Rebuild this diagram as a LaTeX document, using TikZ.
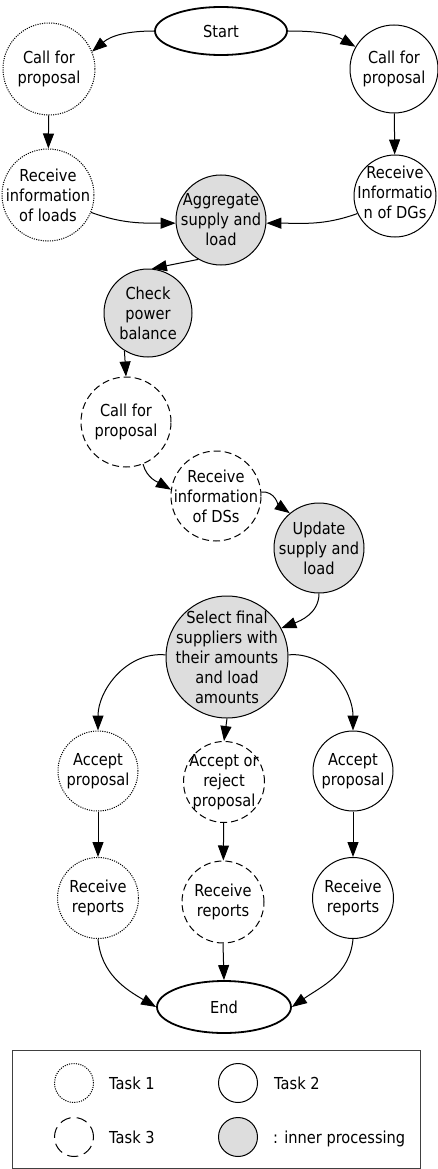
\documentclass[tikz,border=0pt]{standalone}
\usepackage{fontspec}
\setmainfont[FakeStretch=0.885]{DejaVu Sans}
\usetikzlibrary{arrows.meta,shapes.geometric}
\definecolor{inner}{RGB}{221,221,221}
\begin{document}
\begin{tikzpicture}[x=1pt,y=1pt,
  every node/.style={font=\fontsize{16.5}{20}\selectfont},
  base/.style={circle, draw, line width=1pt, inner sep=0pt, minimum size=#1},
  tone/.style={base=#1, dash pattern=on 1.1pt off 1.2pt},
  ttwo/.style={base=#1},
  tthree/.style={base=#1, dash pattern=on 7pt off 4pt},
  iproc/.style={base=#1, fill=inner},
  term/.style={ellipse, draw, line width=1.8pt, inner sep=0pt},
  txy/.style 2 args={label={[align=center,inner sep=0pt,yshift=#1]center:#2}},
  tx/.style={txy={0}{#1}},
  arr/.style={-{Triangle[length=15pt,width=11pt]}, line width=1pt},
  legtxt/.style={anchor=base west, inner sep=0pt}
]
\useasboundingbox (0,0) rectangle (438,-1169);

% terminals
\node[term, minimum width=132, minimum height=48] (start) at (221,-31) {Start};
\node[term, minimum width=134, minimum height=52] (end) at (224,-1007) {End};

% top branch
\node[tone=92, tx={Call for\\proposal}] (cfp1) at (49,-69) {};
\node[ttwo=88, tx={Call for\\proposal}] (cfp2) at (394,-69) {};
\node[tone=92, tx={Receive\\information\\of loads}] (rl) at (48,-195) {};
\node[ttwo=82, txy={4}{Receive\\Informatio\\n of DGs}] (rd) at (395,-196) {};
\node[iproc=90, tx={Aggregate\\supply and\\load}] (agg) at (221,-220) {};
\node[iproc=88, tx={Check\\power\\balance}] (chk) at (148,-313) {};
\node[tthree=90, tx={Call for\\proposal}] (cfp3) at (126,-422) {};
\node[tthree=90, tx={Receive\\information\\of DSs}] (rds) at (216,-496) {};
\node[iproc=90, tx={Update\\supply and\\load}] (upd) at (319,-548) {};
\node[iproc=122, tx={Select final\\suppliers with\\their amounts\\and load\\amounts}] (sel) at (227,-657) {};

% lower branches
\node[tone=80, tx={Accept\\proposal}] (acc1) at (98,-771) {};
\node[tthree=81, tx={Accept or\\reject\\proposal}] (acc2) at (224,-782) {};
\node[ttwo=80, tx={Accept\\proposal}] (acc3) at (353,-771) {};
\node[tone=81, tx={Receive\\reports}] (rr1) at (98,-898) {};
\node[tthree=82, tx={Receive\\reports}] (rr2) at (223,-902) {};
\node[ttwo=81, tx={Receive\\reports}] (rr3) at (353,-898) {};

% connectors
\draw[arr] (start.west) to[out=180,in=40] (cfp1.22);
\draw[arr] (start.east) to[out=0,in=150] (cfp2.150);
\draw[arr] (cfp1) -- (rl);
\draw[arr] (cfp2) -- (rd);
\draw[arr] (rl.-22) to[out=-20,in=180] (agg.184);
\draw[arr] (rd.205) to[out=200,in=0] (agg.-4);
\draw[arr] (agg.240) -- (chk.85);
\draw[arr] (chk.238) -- (cfp3.north);
\draw[arr] (cfp3.-68) to[out=-75,in=150] (rds.172);
\draw[arr] (rds.5) to[out=5,in=145] (upd.130);
\draw[arr] (upd.south) to[out=-90,in=21] (sel.28);
\draw[arr] (sel.178) to[out=175,in=90] (acc1.north);
\draw[arr] (sel.south) -- (acc2.north);
\draw[arr] (sel.2) to[out=5,in=90] (acc3.north);
\draw[arr] (acc1) -- (rr1);
\draw[arr] (acc2) -- (rr2);
\draw[arr] (acc3) -- (rr3);
\draw[arr] (rr1.south) to[out=-85,in=150] (end.west);
\draw[arr] (rr2.south) -- (end.north);
\draw[arr] (rr3.south) to[out=-95,in=35] (end.east);

% legend
\node[draw=black!75, line width=1pt, minimum width=408, minimum height=118, inner sep=0pt] (leg) at (216,-1109) {};
\node[tone=39] (l1) at (74,-1083) {};
\node[ttwo=39] (l2) at (238,-1083) {};
\node[base=39, dash pattern=on 11pt off 6pt] (l3) at (74,-1137) {};
\node[iproc=39] (l4) at (238,-1137) {};
\node[legtxt] (l1t) at (109,-1089) {Task 1};
\node[legtxt] (l2t) at (274,-1089) {Task 2};
\node[legtxt] (l3t) at (109,-1143) {Task 3};
\node[legtxt] (l4t) at (273,-1143) {: inner processing};
\end{tikzpicture}
\end{document}
